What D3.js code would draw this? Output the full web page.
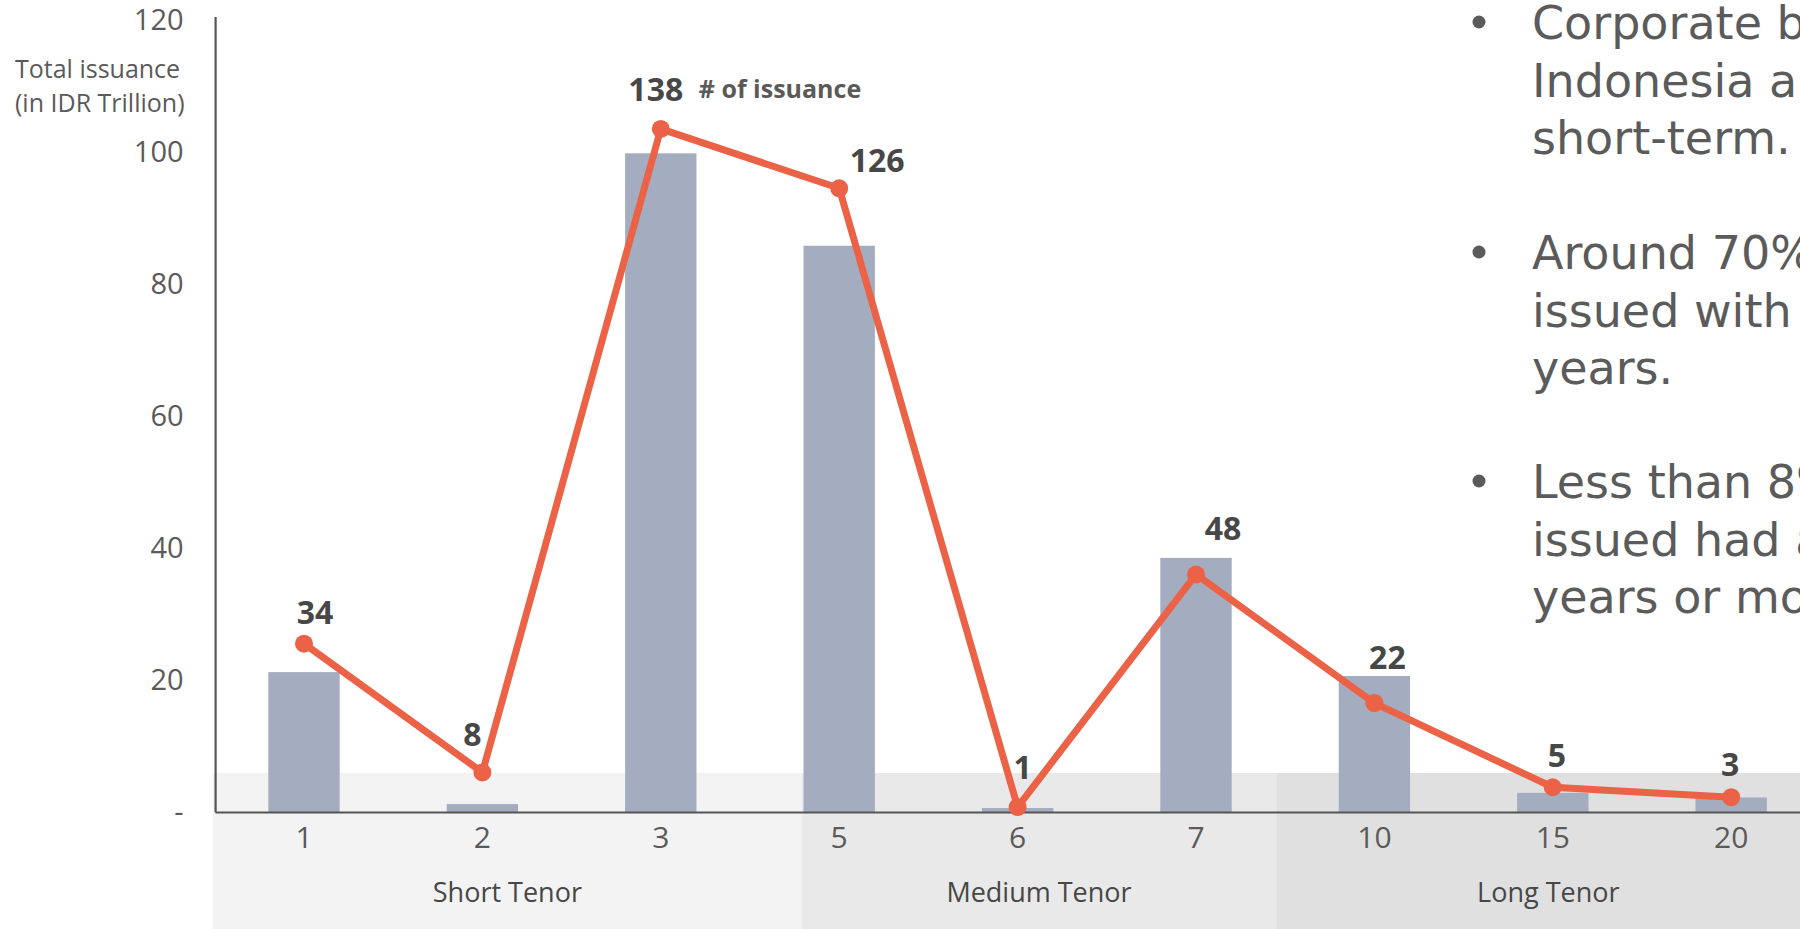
<!DOCTYPE html>
<html>
<head>
<meta charset="utf-8">
<script src="https://cdn.jsdelivr.net/npm/d3@7/dist/d3.min.js"></script>
<style>
  html, body { margin: 0; padding: 0; background: #ffffff; }
  svg { display: block; }
</style>
</head>
<body>
<svg id="chart" width="1800" height="929"></svg>
<script>
// Bond tenor (years) on the x axis
const categories = ["1", "2", "3", "5", "6", "7", "10", "15", "20"];
// Total issuance per tenor, IDR trillion (bars, left scale)
const totalIssuance = [21.2, 1.2, 99.8, 85.8, 0.6, 38.5, 20.6, 2.9, 2.2];
// Number of issuances per tenor (line, secondary scale)
const issuanceCount = [34, 8, 138, 126, 1, 48, 22, 5, 3];
// Left axis ticks and their printed labels
const yTicks = [0, 20, 40, 60, 80, 100, 120];
const yTickLabels = ["-", "20", "40", "60", "80", "100", "120"];
// Tenor groups and the category span each one covers
const tenorGroups = ["Short Tenor", "Medium Tenor", "Long Tenor"];
const groupSpans = [[0, 3.29], [3.29, 5.95], [5.95, 9]];
// Commentary beside the chart, one array of lines per bullet
const bulletNotes = [
  ["Corporate bonds in", "Indonesia are mostly", "short-term."],
  ["Around 70% of bonds", "issued with a tenor of 3", "years."],
  ["Less than 8% of bonds", "issued had a tenor of 10", "years or more."]
];

// Layout and styling
const W = 1800, H = 929;
const baseY = 812, topY = 20;
const plotLeft = 214.8, plotRight = 1820.4;
const bandColors = ["#f3f3f3", "#e9e9e9", "#e0e0e0"];
const barColor = "#a3adbf";
const lineColor = "#ec6247";
const inkDark = "#474747";
const inkMid = "#5a5a5a";
const chartFont = "'Open Sans', 'Noto Sans', sans-serif";
// value-label offsets from each point (dx, dy)
const labelNudge = [[11, -31], [-10, -38], [-5, -39], [38, -28], [5, -40], [27, -46], [13, -46], [4, -32], [-1, -33]];

const svg = d3.select("#chart");

const x = d3.scaleBand()
  .domain(categories)
  .range([plotLeft, plotRight])
  .paddingInner(0.6)
  .paddingOuter(0.3);
const step = x.step();
const xAt = u => plotLeft + u * step;

const y = d3.scaleLinear().domain([0, 120]).range([baseY, topY]);
const yCount = d3.scaleLinear().domain([0, 160]).range([baseY, topY]);

// Shaded tenor-group bands behind the bottom of the plot and the axis labels
const bandTop = baseY - 39;
const bandLeft = (i) => i === 0 ? 213 : xAt(groupSpans[i][0]);
svg.append("g").selectAll("rect")
  .data(tenorGroups)
  .join("rect")
  .attr("x", (d, i) => bandLeft(i))
  .attr("y", bandTop)
  .attr("width", (d, i) => xAt(groupSpans[i][1]) - bandLeft(i))
  .attr("height", H - bandTop)
  .attr("fill", (d, i) => bandColors[i]);

// Bars: total issuance
svg.append("g").selectAll("rect")
  .data(categories)
  .join("rect")
  .attr("x", d => x(d))
  .attr("width", x.bandwidth())
  .attr("y", (d, i) => y(totalIssuance[i]))
  .attr("height", (d, i) => baseY - y(totalIssuance[i]))
  .attr("fill", barColor);

// Left axis
const yAxis = svg.append("g")
  .attr("transform", `translate(${plotLeft + 0.8},0)`)
  .call(d3.axisLeft(y)
    .tickValues(yTicks)
    .tickFormat((d, i) => yTickLabels[i])
    .tickSize(0)
    .tickPadding(32));
yAxis.select(".domain")
  .attr("d", `M0,${topY - 3}V${baseY}`)
  .attr("stroke", "#555")
  .attr("stroke-width", 2.2);
yAxis.selectAll("text")
  .attr("font-family", chartFont)
  .attr("font-size", 29)
  .attr("fill", inkMid);

// Bottom axis
const xAxis = svg.append("g")
  .attr("transform", `translate(0,${baseY})`)
  .call(d3.axisBottom(x).tickSize(0).tickPadding(15));
xAxis.select(".domain")
  .attr("stroke", "#555")
  .attr("stroke-width", 2.2);
xAxis.selectAll("text")
  .attr("font-family", chartFont)
  .attr("font-size", 30)
  .attr("fill", inkMid);

// Left axis title
svg.append("text")
  .attr("font-family", chartFont)
  .attr("font-size", 25)
  .attr("fill", inkMid)
  .selectAll("tspan")
  .data(["Total issuance", "(in IDR Trillion)"])
  .join("tspan")
  .attr("x", 15)
  .attr("y", (d, i) => 78 + i * 34)
  .text(d => d);

// Tenor group labels
svg.append("g").selectAll("text")
  .data(tenorGroups)
  .join("text")
  .attr("x", (d, i) => (bandLeft(i) + xAt(groupSpans[i][1])) / 2)
  .attr("y", 893)
  .attr("dy", "0.35em")
  .attr("text-anchor", "middle")
  .attr("font-family", chartFont)
  .attr("font-weight", 500)
  .attr("font-size", 27)
  .attr("fill", inkDark)
  .text(d => d);

// Line: number of issuances
const cx = d => x(d) + x.bandwidth() / 2;
const line = d3.line()
  .x((d, i) => cx(categories[i]))
  .y(d => yCount(d));
svg.append("path")
  .datum(issuanceCount)
  .attr("d", line)
  .attr("fill", "none")
  .attr("stroke", lineColor)
  .attr("stroke-width", 7)
  .attr("stroke-linejoin", "round");
svg.append("g").selectAll("circle")
  .data(issuanceCount)
  .join("circle")
  .attr("cx", (d, i) => cx(categories[i]))
  .attr("cy", d => yCount(d))
  .attr("r", 9)
  .attr("fill", lineColor);

// Value labels on the line
svg.append("g").selectAll("text")
  .data(issuanceCount)
  .join("text")
  .attr("x", (d, i) => cx(categories[i]) + labelNudge[i][0])
  .attr("y", (d, i) => yCount(d) + labelNudge[i][1])
  .attr("dy", "0.36em")
  .attr("text-anchor", "middle")
  .attr("font-family", chartFont)
  .attr("font-weight", 700)
  .attr("font-size", 32)
  .attr("fill", inkDark)
  .text(d => d);

// Series tag next to the peak label
svg.append("text")
  .attr("x", cx("3") + 38)
  .attr("y", yCount(138) - 40)
  .attr("dy", "0.36em")
  .attr("font-family", chartFont)
  .attr("font-weight", 700)
  .attr("font-size", 25)
  .attr("fill", inkMid)
  .text("# of issuance");

// Commentary bullets on the right
const noteX = 1532, dotX = 1479, lineGap = 57.5;
const firstBaselines = [39, 269, 498];
const notes = svg.append("g")
  .attr("font-family", "'DejaVu Sans', sans-serif")
  .attr("font-size", 46)
  .attr("fill", "#5b5b5b");
bulletNotes.forEach((lines, b) => {
  notes.append("circle")
    .attr("cx", dotX)
    .attr("cy", firstBaselines[b] - 17)
    .attr("r", 6.5)
    .attr("fill", "#5b5b5b");
  notes.append("text")
    .selectAll("tspan")
    .data(lines)
    .join("tspan")
    .attr("x", noteX)
    .attr("y", (d, i) => firstBaselines[b] + i * lineGap)
    .text(d => d);
});
</script>
</body>
</html>
